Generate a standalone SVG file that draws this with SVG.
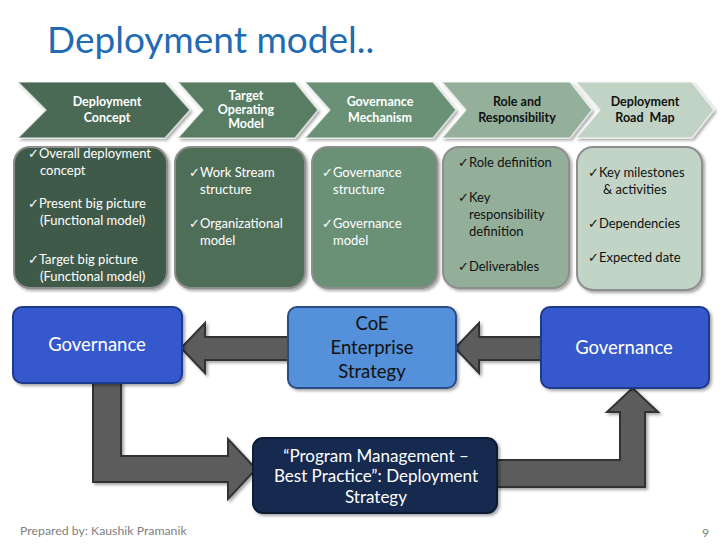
<svg xmlns="http://www.w3.org/2000/svg" width="728" height="546" viewBox="0 0 728 546">
<defs>
<filter id="sh" x="-10%" y="-10%" width="130%" height="130%">
<feDropShadow dx="2" dy="2" stdDeviation="1.5" flood-color="#000" flood-opacity="0.35"/>
</filter>
<style>
text{font-family:Lato,"Liberation Sans",sans-serif;}
.title{font-size:37px;fill:#1F6BB4;}
.chev{stroke:#ffffff;stroke-opacity:0.55;stroke-width:1.5;stroke-linejoin:round;}
.ct{font-size:12.5px;font-weight:bold;text-anchor:middle;}
.w{fill:#ffffff;}
.k{fill:#111111;}
.box{stroke:#8e8e8e;stroke-width:2;}
.bt{font-size:13px;}
.ck{font-family:"DejaVu Sans",sans-serif;font-size:13px;}
.blue{fill:#3559CC;stroke:#1f3a8c;stroke-width:2;}
.coe{fill:#5590DA;stroke:#2a4c86;stroke-width:2;}
.prog{fill:#132C4F;stroke:#0a1a33;stroke-width:2;}
.lbl{font-size:18.5px;text-anchor:middle;}
.arr{fill:#5c5c5c;stroke:#333333;stroke-width:2;stroke-linejoin:miter;}
.foot{font-size:12.3px;fill:#808080;}
</style>
</defs>
<rect width="728" height="546" fill="#ffffff"/>
<text class="title" x="47" y="53">Deployment model..</text>

<g id="chevron1"><polygon class="chev" fill="#4B6B55" points="18,82 165,82 190,110 165,138 18,138 46,110" filter="url(#sh)"/>
<text class="ct w"><tspan x="107" y="106">Deployment</tspan><tspan x="107" y="122">Concept</tspan></text></g>
<g id="chevron2"><polygon class="chev" fill="#587D62" points="178,82 295,82 318,110 295,138 178,138 203,110" filter="url(#sh)"/>
<text class="ct w"><tspan x="246" y="100">Target</tspan><tspan x="246" y="114">Operating</tspan><tspan x="246" y="128">Model</tspan></text></g>
<g id="chevron3"><polygon class="chev" fill="#6A9175" points="305,82 433,82 456,110 433,138 305,138 330,110" filter="url(#sh)"/>
<text class="ct w"><tspan x="380" y="106">Governance</tspan><tspan x="380" y="122">Mechanism</tspan></text></g>
<g id="chevron4"><polygon class="chev" fill="#94B09B" points="442,82 570,82 592,110 570,138 442,138 466,110" filter="url(#sh)"/>
<text class="ct k"><tspan x="517" y="106">Role and</tspan><tspan x="517" y="122">Responsibility</tspan></text></g>
<g id="chevron5"><polygon class="chev" fill="#C0D3C4" points="576,82 692,82 714,110 692,138 576,138 600,110" filter="url(#sh)"/>
<text class="ct k"><tspan x="645" y="106">Deployment</tspan><tspan x="645" y="122" xml:space="preserve">Road  Map</tspan></text></g>

<g id="box1"><rect class="box" x="14" y="147" width="153" height="141" rx="16" fill="#3F5A48" filter="url(#sh)"/>
<text class="bt w"><tspan x="28" y="158"><tspan class="ck">✓</tspan>Overall deployment</tspan><tspan x="40" y="175">concept</tspan><tspan x="28" y="208"><tspan class="ck">✓</tspan>Present big picture</tspan><tspan x="40" y="225">(Functional model)</tspan><tspan x="28" y="264"><tspan class="ck">✓</tspan>Target big picture</tspan><tspan x="40" y="281">(Functional model)</tspan></text></g>
<g id="box2"><rect class="box" x="175" y="147" width="130" height="141" rx="16" fill="#4F6E58" filter="url(#sh)"/>
<text class="bt w"><tspan x="189" y="177"><tspan class="ck">✓</tspan>Work Stream</tspan><tspan x="200" y="194">structure</tspan><tspan x="189" y="228"><tspan class="ck">✓</tspan>Organizational</tspan><tspan x="200" y="245">model</tspan></text></g>
<g id="box3"><rect class="box" x="312" y="147" width="125" height="141" rx="16" fill="#6B9176" filter="url(#sh)"/>
<text class="bt w"><tspan x="322" y="177"><tspan class="ck">✓</tspan>Governance</tspan><tspan x="333" y="194">structure</tspan><tspan x="322" y="228"><tspan class="ck">✓</tspan>Governance</tspan><tspan x="333" y="245">model</tspan></text></g>
<g id="box4"><rect class="box" x="443" y="147" width="126" height="141" rx="16" fill="#93AE99" filter="url(#sh)"/>
<text class="bt k"><tspan x="458" y="167"><tspan class="ck">✓</tspan>Role definition</tspan><tspan x="458" y="202"><tspan class="ck">✓</tspan>Key</tspan><tspan x="469" y="219">responsibility</tspan><tspan x="469" y="236">definition</tspan><tspan x="458" y="271"><tspan class="ck">✓</tspan>Deliverables</tspan></text></g>
<g id="box5"><rect class="box" x="577" y="147" width="125" height="143" rx="16" fill="#C2D4C6" filter="url(#sh)"/>
<text class="bt k"><tspan x="588" y="177"><tspan class="ck">✓</tspan>Key milestones</tspan><tspan x="603" y="194">&amp; activities</tspan><tspan x="588" y="228"><tspan class="ck">✓</tspan>Dependencies</tspan><tspan x="588" y="262"><tspan class="ck">✓</tspan>Expected date</tspan></text></g>

<g id="connectors">
<polygon class="arr" points="288,337 205,337 205,323 181,348 205,373 205,360 288,360" filter="url(#sh)"/>
<polygon class="arr" points="542,337 479,337 479,323 455,348 479,373 479,360 542,360" filter="url(#sh)"/>
<polygon class="arr" points="93,383 121,383 121,456 228,456 228,439 256,469 228,499 228,482 93,482" filter="url(#sh)"/>
<polygon class="arr" points="497,460 620,460 620,412 607,412 632.5,388 658,412 645,412 645,487 497,487" filter="url(#sh)"/>
</g>

<g id="governance-left"><rect class="blue" x="13" y="307" width="169" height="76" rx="9" filter="url(#sh)"/>
<text class="lbl w" x="97" y="351">Governance</text></g>
<g id="coe"><rect class="coe" x="288" y="307" width="168" height="81" rx="9" filter="url(#sh)"/>
<text class="lbl k"><tspan x="372" y="330">CoE</tspan><tspan x="372" y="354">Enterprise</tspan><tspan x="372" y="378">Strategy</tspan></text></g>
<g id="governance-right"><rect class="blue" x="541" y="307" width="168" height="81" rx="9" filter="url(#sh)"/>
<text class="lbl w" x="624" y="354">Governance</text></g>
<g id="program"><rect class="prog" x="253" y="438" width="244" height="75" rx="10" filter="url(#sh)"/>
<text class="lbl w" style="font-size:17px"><tspan x="376" y="462">“Program Management –</tspan><tspan x="376" y="482">Best Practice”: Deployment</tspan><tspan x="376" y="503">Strategy</tspan></text></g>

<text class="foot" x="20" y="535">Prepared by: Kaushik Pramanik</text>
<text class="foot" x="702" y="537">9</text>
</svg>
